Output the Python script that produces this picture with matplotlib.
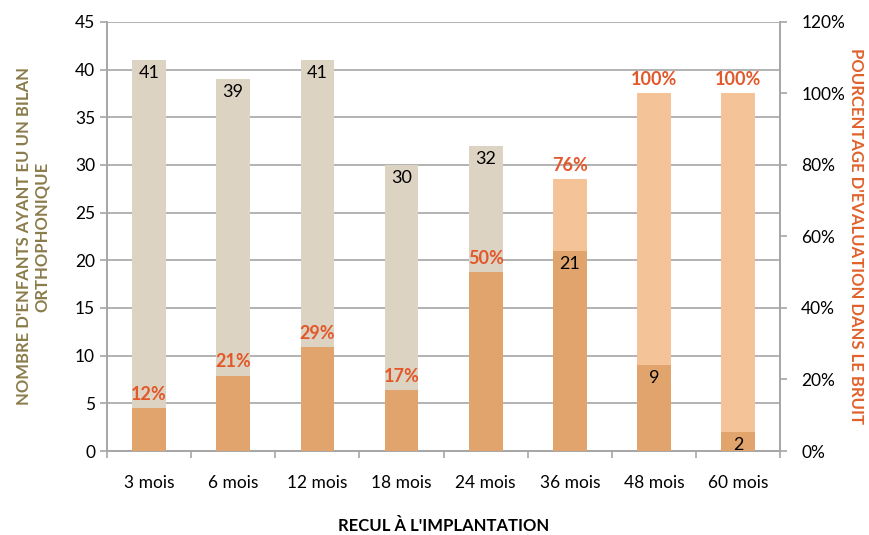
import matplotlib.pyplot as plt
import numpy as np

plt.rcParams['font.family'] = ['Lato', 'DejaVu Sans']

categories = ['3 mois', '6 mois', '12 mois', '18 mois', '24 mois', '36 mois', '48 mois', '60 mois']
enfants = [41, 39, 41, 30, 32, 21, 9, 2]
pourcentage = [12, 21, 29, 17, 50, 76, 100, 100]

beige = '#DDD3C2'
light_orange = '#F4C398'
dark_orange = '#E0A46C'
label_orange = '#E2582A'
grid_gray = '#A6A6A6'

fig = plt.figure(figsize=(8.69, 5.35), dpi=100)
ax = fig.add_axes([0.123, 0.157, 0.775, 0.802])
ax2 = ax.twinx()

x = np.arange(len(categories))
w = 0.4

ax.bar(x, enfants, width=w, color=beige, zorder=2)
ax.set_ylim(0, 45)
ax.set_yticks(range(0, 46, 5))
ax.set_xlim(-0.5, len(categories) - 0.5)
ax.yaxis.grid(True, color=grid_gray, linewidth=1.2, zorder=0)
ax.set_axisbelow(True)

# percentage bars on the right axis; overlap drawn darker
pct = np.array(pourcentage, dtype=float)
cnt_pct = np.array(enfants) * 120 / 45
ax2.bar(x, pct, width=w, color=light_orange, zorder=2)
ax2.bar(x, np.minimum(pct, cnt_pct), width=w, color=dark_orange, zorder=3)
ax2.set_ylim(0, 120)
ax2.set_yticks(range(0, 121, 20))
ax2.set_yticklabels([f'{v}%' for v in range(0, 121, 20)])

for xi, v in zip(x, enfants):
    ax2.annotate(str(v), (xi, v * 120 / 45), xytext=(0, -3.5), textcoords='offset points',
                 ha='center', va='top', fontsize=13, color='black', zorder=5)
for xi, p in zip(x, pourcentage):
    ax2.annotate(f'{p}%', (xi, p), xytext=(0, 4), textcoords='offset points',
                 ha='center', va='bottom', fontsize=13, fontweight='bold',
                 color=label_orange, zorder=5)

ax.set_xticks(x)
ax.set_xticklabels(categories, fontsize=12.5)
ax.set_xticks(np.arange(-0.5, len(categories)), minor=True)
ax.tick_params(axis='x', which='major', length=0, pad=17)
ax.tick_params(axis='x', which='minor', length=5, color=grid_gray, width=1.2)
ax.tick_params(axis='y', length=5, color=grid_gray, width=1.2, labelsize=12.5)
ax2.tick_params(axis='y', length=5, color=grid_gray, width=1.2, labelsize=12.5, pad=10)

for a in (ax, ax2):
    for s in a.spines.values():
        s.set_color(grid_gray)
        s.set_linewidth(1.2)
    a.spines['top'].set_visible(False)

ax.set_ylabel("NOMBRE D'ENFANTS AYANT EU UN BILAN\nORTHOPHONIQUE", fontsize=12,
              fontweight='bold', color='#8A7C4A', linespacing=1.15)
ax.yaxis.set_label_coords(-0.085, 0.5)
ax2.set_ylabel("POURCENTAGE D'EVALUATION DANS LE BRUIT", fontsize=12,
               fontweight='bold', color='#E0612B', rotation=-90, va='center')
ax2.yaxis.set_label_coords(1.113, 0.5)
ax.set_xlabel("RECUL À L'IMPLANTATION", fontsize=12, fontweight='bold')
ax.xaxis.set_label_coords(0.5, -0.155)

fig.savefig('out.png', dpi=100)
